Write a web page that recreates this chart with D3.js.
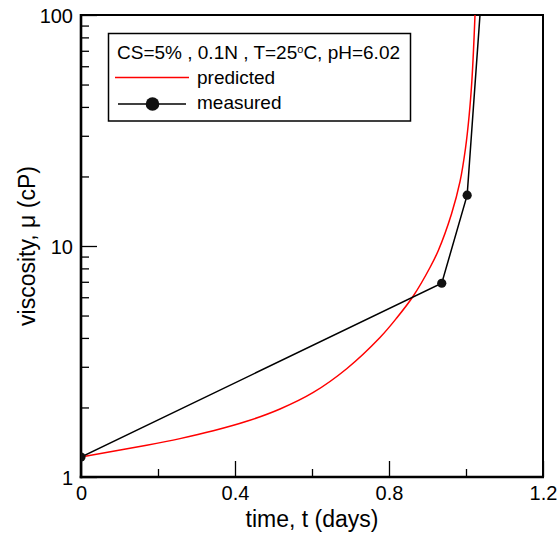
<!DOCTYPE html>
<html>
<head>
<meta charset="utf-8">
<script src="https://cdn.jsdelivr.net/npm/d3@7"></script>
<style>
  body { margin: 0; background: #fff; }
  text { font-family: "Liberation Sans", Arial, sans-serif; }
</style>
</head>
<body>
<svg id="chart" width="557" height="535"></svg>
<script>
// ---- data ----
const predictedT  = [0, 0.1706, 0.2571, 0.3436, 0.4304, 0.5169, 0.6034, 0.6901, 0.7766, 0.8200, 0.8631, 0.9065, 0.9281, 0.9623, 0.9844, 0.9987, 1.0083, 1.0151, 1.0197, 1.0234, 1.026];
const predictedMu = [1.221, 1.372, 1.466, 1.585, 1.742, 1.970, 2.324, 2.943, 4.017, 4.879, 6.075, 8.072, 9.562, 13.76, 18.98, 26.49, 36.91, 51.43, 71.77, 100, 128.3];
const measuredT   = [0, 0.937, 1.003, 1.04];
const measuredMu  = [1.22, 6.90, 16.6, 122];
const xMajorTicks = [0, 0.4, 0.8, 1.2];
const xMinorTicks = [0.2, 0.6, 1.0];
const yMajorTicks = [1, 10, 100];
const yMinorTicks = [2, 3, 4, 5, 6, 7, 8, 9, 20, 30, 40, 50, 60, 70, 80, 90];
const legendTitle = "CS=5% , 0.1N , T=25";
const legendTitleEnd = "C, pH=6.02";
const seriesNames = ["predicted", "measured"];
const xTitle = "time, t (days)";
const yTitle = "viscosity, \u03bc (cP)";

// ---- layout ----
const L = 81, R = 543, T = 15, B = 477;
const svg = d3.select("#chart");
const x = d3.scaleLinear().domain([0, 1.2]).range([L, R]);
const y = d3.scaleLog().domain([1, 100]).range([B, T]);

svg.append("defs").append("clipPath").attr("id", "clip")
  .append("rect").attr("x", L).attr("y", T).attr("width", R - L).attr("height", B - T);

const fmtX = d => d === 0 ? "0" : d3.format(".1f")(d);
const xAxisMajor = d3.axisBottom(x).tickValues(xMajorTicks).tickSize(-16).tickFormat(fmtX);
const xAxisMinor = d3.axisBottom(x).tickValues(xMinorTicks).tickSize(-8).tickFormat("");
const yAxisMajor = d3.axisLeft(y).tickValues(yMajorTicks).tickSize(-16).tickFormat(d3.format("d"));
const yAxisMinor = d3.axisLeft(y).tickValues(yMinorTicks).tickSize(-8).tickFormat("");

function styleAxis(g) {
  g.select(".domain").remove();
  g.selectAll(".tick line").attr("stroke", "#000").attr("stroke-width", 1.3);
  g.selectAll(".tick text").attr("fill", "#000").style("font-size", "20px");
}
const gx1 = svg.append("g").attr("transform", `translate(0,${B})`).call(xAxisMinor).call(styleAxis);
const gx2 = svg.append("g").attr("transform", `translate(0,${B})`).call(xAxisMajor).call(styleAxis);
const gy1 = svg.append("g").attr("transform", `translate(${L},0)`).call(yAxisMinor).call(styleAxis);
const gy2 = svg.append("g").attr("transform", `translate(${L},0)`).call(yAxisMajor).call(styleAxis);
gx2.selectAll(".tick text").attr("y", 23).attr("dy", "0");
gy2.selectAll(".tick text").attr("x", -8).attr("dy", "0.35em");

// frame
svg.append("rect").attr("x", L).attr("y", T).attr("width", R - L).attr("height", B - T)
  .attr("fill", "none").attr("stroke", "#000").attr("stroke-width", 2);
svg.append("line").attr("x1", L).attr("x2", L).attr("y1", T - 1).attr("y2", B + 1.3).attr("stroke", "#000").attr("stroke-width", 2.6);
svg.append("line").attr("x1", L - 1.3).attr("x2", R + 1).attr("y1", B).attr("y2", B).attr("stroke", "#000").attr("stroke-width", 2.6);

// lines
const plot = svg.append("g").attr("clip-path", "url(#clip)");
const predData = predictedT.map((t, i) => [t, predictedMu[i]]);
const measData = measuredT.map((t, i) => [t, measuredMu[i]]);
plot.append("path").datum(predData)
  .attr("d", d3.line().x(d => x(d[0])).y(d => y(d[1])).curve(d3.curveCatmullRom.alpha(0.5)))
  .attr("fill", "none").attr("stroke", "#ff0000").attr("stroke-width", 1.5);
plot.append("path").datum(measData)
  .attr("d", d3.line().x(d => x(d[0])).y(d => y(d[1])))
  .attr("fill", "none").attr("stroke", "#000").attr("stroke-width", 1.5);
plot.selectAll("circle.m").data(measData).join("circle").attr("class", "m")
  .attr("cx", d => x(d[0])).attr("cy", d => y(d[1])).attr("r", 4.6).attr("fill", "#111");

// axis titles
svg.append("text").attr("x", (L + R) / 2).attr("y", 527).attr("text-anchor", "middle")
  .style("font-size", "23px").text(xTitle);
svg.append("text").attr("transform", `translate(35,${(T + B) / 2}) rotate(-90)`).attr("text-anchor", "middle")
  .style("font-size", "23px").text(yTitle);

// legend
const lg = svg.append("g");
lg.append("rect").attr("x", 108.5).attr("y", 33.5).attr("width", 302).attr("height", 87.5)
  .attr("fill", "#fff").attr("stroke", "#000").attr("stroke-width", 1.5);
const tt = lg.append("text").attr("x", 117).attr("y", 58.5).style("font-size", "19px");
tt.append("tspan").text(legendTitle);
tt.append("tspan").attr("dy", -6).style("font-size", "11px").text("o");
tt.append("tspan").attr("dy", 6).text(legendTitleEnd);
lg.append("line").attr("x1", 115).attr("x2", 189).attr("y1", 77.5).attr("y2", 77.5).attr("stroke", "#ff0000").attr("stroke-width", 1.5);
lg.append("text").attr("x", 197).attr("y", 83.5).style("font-size", "19px").text(seriesNames[0]);
lg.append("line").attr("x1", 118).attr("x2", 186).attr("y1", 104).attr("y2", 104).attr("stroke", "#000").attr("stroke-width", 1.5);
lg.append("circle").attr("cx", 152.5).attr("cy", 104).attr("r", 6.8).attr("fill", "#111");
lg.append("text").attr("x", 197).attr("y", 109).style("font-size", "19px").text(seriesNames[1]);
</script>
</body>
</html>
